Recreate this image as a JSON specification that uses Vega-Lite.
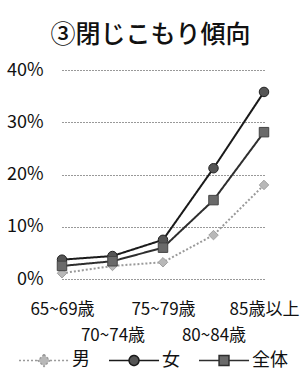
{
  "$schema": "https://vega.github.io/schema/vega-lite/v6.json",
  "autosize": "none",
  "width": 253,
  "height": 209,
  "padding": {"left": 45, "top": 70, "right": 4, "bottom": 90},
  "background": "white",
  "title": {
    "text": "③閉じこもり傾向",
    "font": "Noto Sans CJK JP",
    "fontSize": 25,
    "fontWeight": 500,
    "color": "#111",
    "anchor": "middle",
    "dx": -21,
    "offset": 13
  },
  "data": {
    "values": [
      {"age": "65~69歳", "series": "男", "value": 1.1},
      {"age": "70~74歳", "series": "男", "value": 2.5},
      {"age": "75~79歳", "series": "男", "value": 3.2},
      {"age": "80~84歳", "series": "男", "value": 8.4},
      {"age": "85歳以上", "series": "男", "value": 18.0},
      {"age": "65~69歳", "series": "女", "value": 3.7},
      {"age": "70~74歳", "series": "女", "value": 4.4},
      {"age": "75~79歳", "series": "女", "value": 7.5},
      {"age": "80~84歳", "series": "女", "value": 21.2},
      {"age": "85歳以上", "series": "女", "value": 35.8},
      {"age": "65~69歳", "series": "全体", "value": 2.5},
      {"age": "70~74歳", "series": "全体", "value": 3.4},
      {"age": "75~79歳", "series": "全体", "value": 6.0},
      {"age": "80~84歳", "series": "全体", "value": 15.1},
      {"age": "85歳以上", "series": "全体", "value": 28.1}
    ]
  },
  "encoding": {
    "x": {
      "field": "age",
      "type": "ordinal",
      "sort": ["65~69歳", "70~74歳", "75~79歳", "80~84歳", "85歳以上"],
      "scale": {"type": "point", "range": [17, 219], "padding": 0},
      "axis": {
        "title": null,
        "domain": false,
        "ticks": false,
        "grid": false,
        "labelAngle": 0,
        "labelFont": "Noto Sans CJK JP",
        "labelFontSize": 17,
        "labelColor": "#111",
        "labelBaseline": "top",
        "labelPadding": 22,
        "labelLineHeight": 26,
        "labelOverlap": false,
        "labelExpr": "indexof(['70~74歳','80~84歳'], datum.value) >= 0 ? ['', datum.label] : datum.label"
      }
    },
    "y": {
      "field": "value",
      "type": "quantitative",
      "scale": {"domain": [0, 40]},
      "axis": {
        "title": null,
        "values": [0, 10, 20, 30, 40],
        "domain": false,
        "ticks": false,
        "grid": true,
        "gridDash": [1, 2],
        "gridColor": "#333",
        "gridWidth": 1,
        "gridOpacity": 1,
        "labelFont": "Noto Sans CJK JP",
        "labelFontSize": 18,
        "labelColor": "#111",
        "labelPadding": 2,
        "labelExpr": "datum.value + '%'"
      }
    }
  },
  "resolve": {"legend": {"color": "independent", "shape": "independent", "fill": "independent", "stroke": "independent", "strokeDash": "independent"}},
  "layer": [
    {
      "mark": {"type": "line", "strokeWidth": 2},
      "encoding": {
        "color": {
          "field": "series",
          "type": "nominal",
          "scale": {"domain": ["男", "女", "全体"], "range": ["#9a9a9a", "#1a1a1a", "#2e2e2e"]},
          "legend": {
            "title": null,
            "orient": "none",
            "direction": "horizontal",
            "legendX": -27,
            "legendY": 280,
            "padding": 0,
            "symbolSize": 324,
            "symbolStrokeWidth": 1.5,
            "labelOffset": 34,
            "columnPadding": 16,
            "labelFont": "Noto Sans CJK JP",
            "labelFontSize": 18,
            "labelColor": "#111",
            "encode": {
              "symbols": {
                "update": {
                  "shape": {"signal": "datum.value === '男' ? 'M-1,0H1.11M2.45,0H4.56M1.78,-0.67L2.45,0L1.78,0.67L1.11,0Z' : datum.value === '女' ? 'M-1,0H1.23M2.33,0H4.56M1.23,0A0.55,0.55 0 1,1 2.33,0A0.55,0.55 0 1,1 1.23,0Z' : 'M-1,0H1.23M2.33,0H4.56M1.23,-0.55H2.33V0.55H1.23Z'"},
                  "fill": {"signal": "datum.value === '男' ? '#b8b8b8' : datum.value === '女' ? '#555' : '#6a6a6a'"},
                  "strokeDash": {"signal": "datum.value === '男' ? [2,2] : [1,0]"},
                  "opacity": {"value": 1}
                }
              }
            }
          }
        },
        "strokeDash": {
          "field": "series",
          "type": "nominal",
          "scale": {"domain": ["男", "女", "全体"], "range": [[2, 2], [1, 0], [1, 0]]},
          "legend": null
        }
      }
    },
    {
      "mark": {"type": "point", "filled": true, "size": 90, "opacity": 1, "strokeWidth": 1},
      "encoding": {
        "shape": {
          "field": "series",
          "type": "nominal",
          "scale": {"domain": ["男", "女", "全体"], "range": ["diamond", "circle", "square"]},
          "legend": null
        },
        "fill": {
          "field": "series",
          "type": "nominal",
          "scale": {"domain": ["男", "女", "全体"], "range": ["#b8b8b8", "#555555", "#6a6a6a"]},
          "legend": null
        },
        "stroke": {
          "field": "series",
          "type": "nominal",
          "scale": {"domain": ["男", "女", "全体"], "range": ["#a0a0a0", "#222222", "#444444"]},
          "legend": null
        }
      }
    }
  ],
  "config": {
    "view": {"stroke": null},
    "font": "Noto Sans CJK JP"
  }
}
